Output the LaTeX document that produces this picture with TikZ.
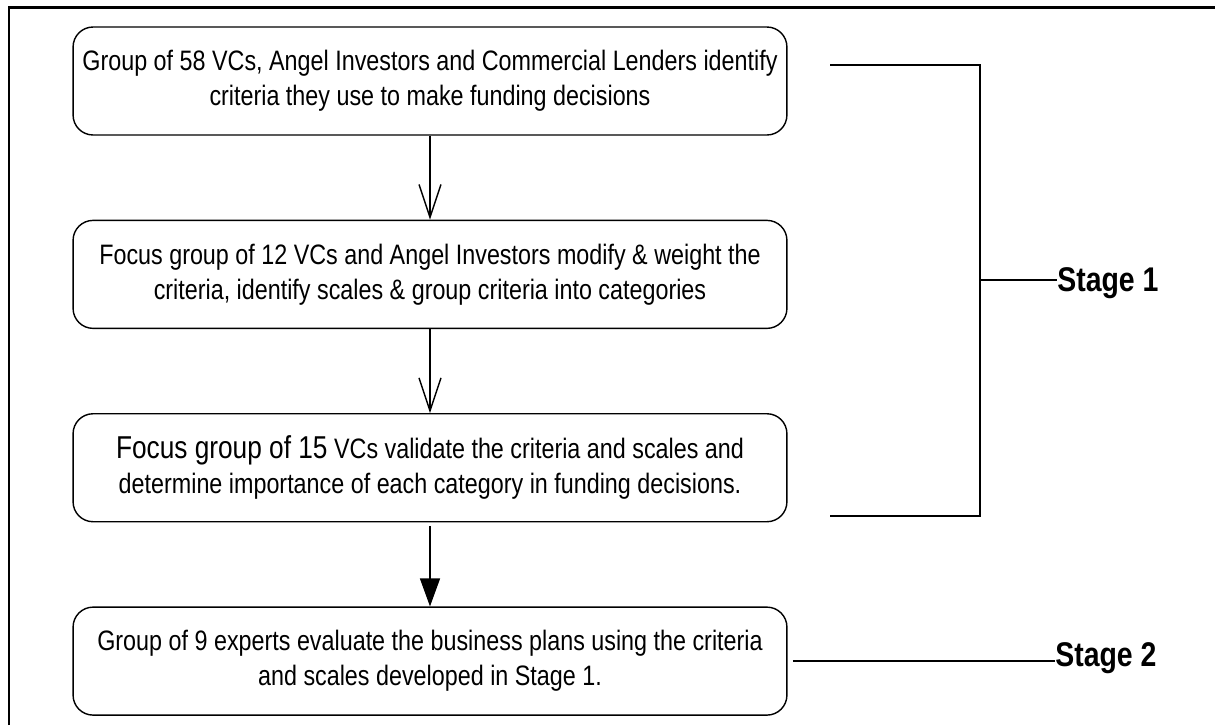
\documentclass[tikz,border=0pt]{standalone}
\usepackage{fontspec}
\setmainfont{Liberation Sans}[FakeStretch=0.83]
\usetikzlibrary{positioning,arrows.meta}

\tikzset{
  stagebox/.style={draw,thick,rounded corners=0.4cm,minimum width=14.28cm,
    minimum height=2.16cm,align=center,font=\fontsize{16}{20}\selectfont},
  stagelabel/.style={anchor=west,inner sep=0pt,font=\fontsize{19.5}{24}\selectfont\bfseries},
  openarrow/.style={-{Straight Barb[length=0.66cm,width=0.44cm]},thick},
  fullarrow/.style={-{Triangle[length=0.56cm,width=0.4cm]},thick,shorten <=2pt}
}

\begin{document}
\begin{tikzpicture}[x=0.02cm,y=-0.02cm,node distance=1.68cm]
  \useasboundingbox (0,0) rectangle (1215,725);
  % frame
  \draw[line width=1.7pt] (9,725) -- (9,7) -- (1215,7);

  % boxes
  \node[stagebox] (survey) at (430,81)
    {Group of 58 VCs, Angel Investors and Commercial Lenders identify\\
     criteria they use to make funding decisions};
  \node[stagebox,below=of survey] (focusa)
    {Focus group of 12 VCs and Angel Investors modify \& weight the\\
     criteria, identify scales \& group criteria into categories};
  \node[stagebox,below=of focusa] (focusb)
    {{\fontsize{18}{20}\selectfont Focus group of 15} VCs validate the criteria and scales and\\
     determine importance of each category in funding decisions.};
  \node[stagebox,below=of focusb] (experts)
    {Group of 9 experts evaluate the business plans using the criteria\\
     and scales developed in Stage 1.};

  \draw[openarrow] (survey) -- (focusa);
  \draw[openarrow] (focusa) -- (focusb);
  \draw[fullarrow] (focusb) -- (experts);

  % stages
  \coordinate (brtop) at (830,65);
  \coordinate (brbot) at (830,516);
  \coordinate (brmid) at (980,280);
  \node[stagelabel] (stageone) at (1057,283) {Stage 1};
  \node[stagelabel] (stagetwo) at (1055,658) {Stage 2};
  \draw[thick] (brtop) -| (brmid) |- (brbot);
  \draw[thick] (brmid) -- (stageone.west |- brmid);
  \draw[thick] (experts.east) ++(3pt,0) -- (stagetwo.west |- experts.east);
\end{tikzpicture}
\end{document}
